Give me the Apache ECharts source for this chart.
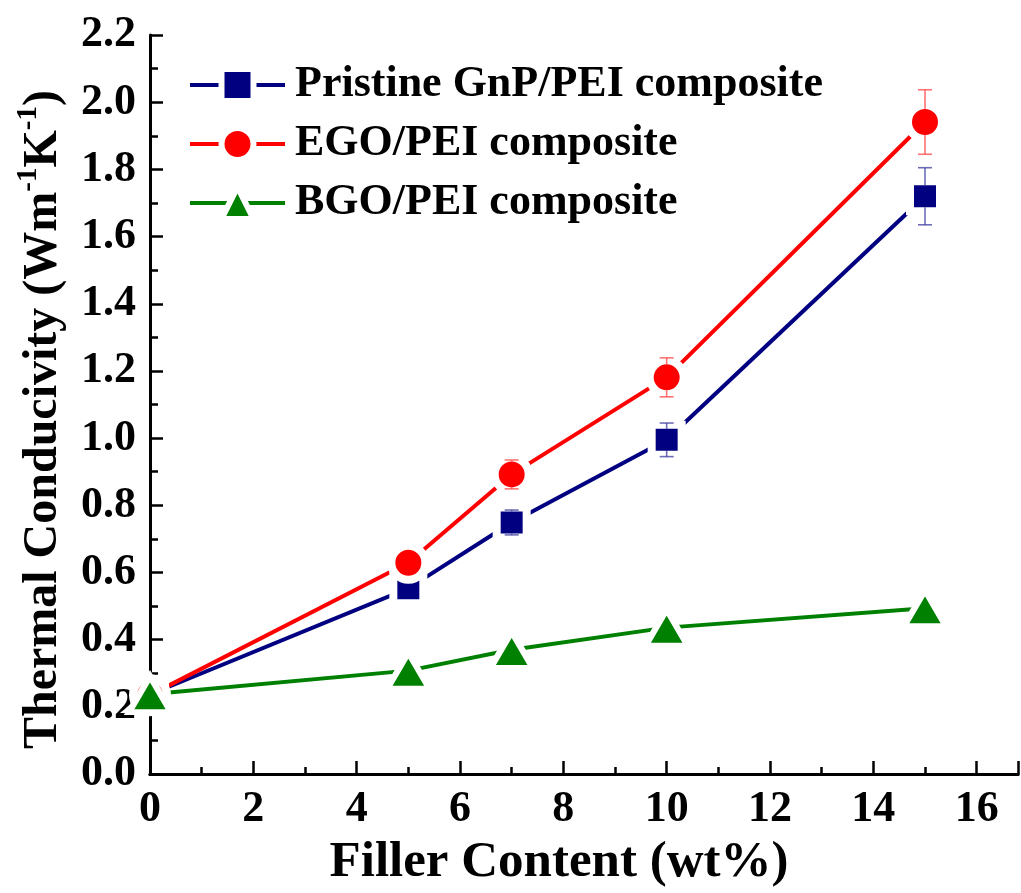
<!DOCTYPE html>
<html><head><meta charset="utf-8">
<script src="https://cdn.jsdelivr.net/npm/echarts@6/dist/echarts.min.js"></script>
<style>html,body{margin:0;padding:0;background:#fff}#c{width:1021px;height:893px}</style>
</head><body><div id="c"></div><script>
const fillerContent = [0, 5, 7, 10, 15];
const gnpValues = [0.237, 0.553, 0.749, 0.995, 1.72];
const gnpErrors = [0.01, 0.012, 0.037, 0.05, 0.085];
const egoValues = [0.235, 0.629, 0.892, 1.181, 1.941];
const egoErrors = [0.01, 0.012, 0.043, 0.058, 0.096];
const bgoValues = [0.238, 0.308, 0.37, 0.436, 0.494];
const seriesNames = ['Pristine GnP/PEI composite', 'EGO/PEI composite', 'BGO/PEI composite'];

const FONT = '"Liberation Serif","Times New Roman",serif';
const chart = echarts.init(document.getElementById('c'), null, {renderer: 'canvas'});

function errSeries(vals, errs, color, half) {
  return {
    type: 'custom', silent: true, z: 5,
    data: fillerContent.map((x, i) => [x, vals[i], errs[i]]),
    renderItem(params, api) {
      const x = api.value(0), y = api.value(1), e = api.value(2);
      const c = api.coord([x, y]), t = api.coord([x, y + e]), b = api.coord([x, y - e]);
      const w = 7, st = {stroke: color, lineWidth: 1.6};
      const ch = [];
      if (c[1] - t[1] > half) {
        ch.push({type: 'line', shape: {x1: t[0], y1: t[1], x2: c[0], y2: c[1] - half}, style: st});
        ch.push({type: 'line', shape: {x1: t[0] - w, y1: t[1], x2: t[0] + w, y2: t[1]}, style: st});
      }
      if (b[1] - c[1] > half) {
        ch.push({type: 'line', shape: {x1: b[0], y1: b[1], x2: c[0], y2: c[1] + half}, style: st});
        ch.push({type: 'line', shape: {x1: b[0] - w, y1: b[1], x2: b[0] + w, y2: b[1]}, style: st});
      }
      return {type: 'group', children: ch};
    }
  };
}

function lineSeries(name, vals, color, symbol, size, bw) {
  return {
    name, type: 'line', z: 3,
    data: fillerContent.map((x, i) => [x, vals[i]]),
    symbol, symbolSize: size,
    lineStyle: {color, width: 4},
    itemStyle: {color, borderColor: '#fff', borderWidth: bw},
    clip: false
  };
}

chart.setOption({
  animation: false,
  backgroundColor: '#fff',
  grid: {left: 150, right: 0, top: 35, bottom: 112, containLabel: false},
  legend: {
    data: seriesNames, orient: 'vertical', left: 183, top: 58,
    itemWidth: 95, itemHeight: 40, itemGap: 15,
    lineStyle: {width: 4},
    itemStyle: {borderColor: '#fff', borderWidth: 6},
    textStyle: {fontFamily: FONT, fontWeight: 'bold', fontSize: 44, color: '#000', lineHeight: 44, padding: [0, 0, 0, 5]}
  },
  xAxis: [{
    type: 'value', min: 0, max: 16.8, interval: 2,
    name: 'Filler Content (wt%)', nameLocation: 'middle', nameGap: 55,
    nameTextStyle: {fontFamily: FONT, fontWeight: 'bold', fontSize: 51, color: '#000', padding: [0, 50, 0, 0]},
    axisLine: {show: true, onZero: false, lineStyle: {color: '#000', width: 3}},
    axisTick: {show: true, inside: true, length: 13, lineStyle: {color: '#000', width: 2.5}},
    minorTick: {show: true, splitNumber: 2, length: 7, lineStyle: {color: '#000', width: 2.5}},
    axisLabel: {fontFamily: FONT, fontWeight: 'bold', fontSize: 44, color: '#000', margin: 14,
      formatter: v => (v > 16 ? '' : String(v))},
    splitLine: {show: false}
  }, {
    type: 'value', position: 'top', min: 0, max: 16.8,
    axisLine: {show: true, lineStyle: {color: '#000', width: 3}},
    axisTick: {show: false}, axisLabel: {show: false}, splitLine: {show: false}
  }],
  yAxis: {
    type: 'value', min: 0, max: 2.2, interval: 0.2,
    name: '{t|Thermal Conducivity (Wm}{s|-1}{t|K}{s|-1}{t|)}',
    nameLocation: 'middle', nameRotate: 90, nameGap: 82,
    nameTextStyle: {
      padding: [0, 30, 0, 0],
      rich: {
        t: {fontFamily: FONT, fontWeight: 'bold', fontSize: 48, color: '#000', lineHeight: 54, verticalAlign: 'bottom'},
        s: {fontFamily: FONT, fontWeight: 'bold', fontSize: 29, color: '#000', verticalAlign: 'top', lineHeight: 32}
      }
    },
    axisLine: {show: true, lineStyle: {color: '#000', width: 3}},
    axisTick: {show: true, inside: true, length: 13, lineStyle: {color: '#000', width: 2.5}},
    minorTick: {show: true, splitNumber: 2, length: 8, lineStyle: {color: '#000', width: 2.5}},
    axisLabel: {fontFamily: FONT, fontWeight: 'bold', fontSize: 44, color: '#000', margin: 14,
      formatter: v => v.toFixed(1)},
    splitLine: {show: false}
  },
  series: [
    errSeries(gnpValues, gnpErrors, 'rgba(60,60,160,0.75)', 11),
    errSeries(egoValues, egoErrors, 'rgba(255,80,80,0.8)', 13),
    lineSeries(seriesNames[0], gnpValues, '#000080', 'rect', 30, 8),
    lineSeries(seriesNames[1], egoValues, '#ff0000', 'circle', 34, 8),
    lineSeries(seriesNames[2], bgoValues, '#008000', 'triangle', [42, 36], 6)
  ]
});
</script></body></html>
